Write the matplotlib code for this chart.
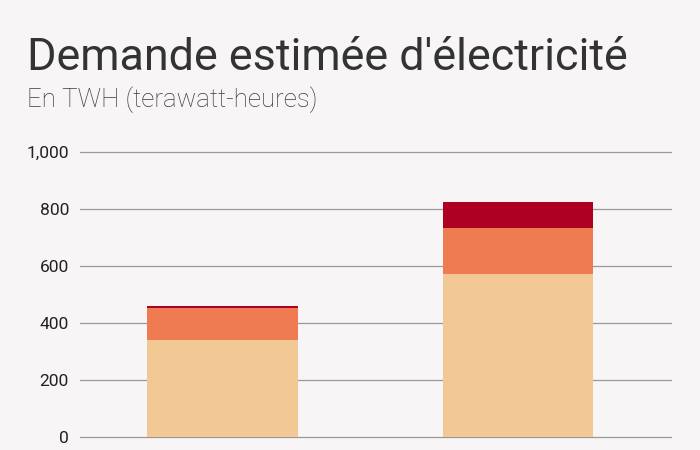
import matplotlib
matplotlib.use("Agg")
import matplotlib.pyplot as plt
import numpy as np

categories = ["A", "B"]
base = [340, 573]
middle = [114, 159]
top = [7, 94]
yticks = [0, 200, 400, 600, 800, 1000]
ytick_labels = ["0", "200", "400", "600", "800", "1,000"]

colors = ["#f2c994", "#ee7b52", "#ae0020"]
bg = "#f7f5f5"

plt.rcParams['font.family'] = ['Roboto', 'DejaVu Sans']

fig = plt.figure(figsize=(7, 4.5), dpi=100, facecolor=bg)
# axes: left 80px, right 672px, top 140px, bottom 450px
ax = fig.add_axes([80/700, 0, (672-80)/700, (450-140)/450])
ax.set_facecolor(bg)

x = np.arange(len(categories))
ax.bar(x, base, width=0.508, color=colors[0], zorder=3)
ax.bar(x, middle, width=0.508, bottom=base, color=colors[1], zorder=3)
ax.bar(x, top, width=0.508, bottom=np.array(base) + np.array(middle), color=colors[2], zorder=3)

ax.set_xlim(-0.482, 1.521)
ax.set_ylim(-45.6, 1042)
ax.set_yticks(yticks)
ax.set_yticklabels(ytick_labels, fontsize=12.5, color="#222222")
ax.tick_params(axis='y', length=0, pad=8)
ax.set_xticks([])
ax.grid(axis='y', color="#999999", linewidth=0.9, zorder=0)
for s in ax.spines.values():
    s.set_visible(False)

fig.text(27/700, 1 - 70/450, "Demande estimée d'électricité", fontsize=32.3, color="#333333", ha="left", va="baseline")
fig.text(27/700, 1 - 107/450, "En TWH (terawatt-heures)", fontsize=18.6, color="#3c3c3c", ha="left", va="baseline", fontweight="light")

fig.savefig("out.png", dpi=100, facecolor=bg)
